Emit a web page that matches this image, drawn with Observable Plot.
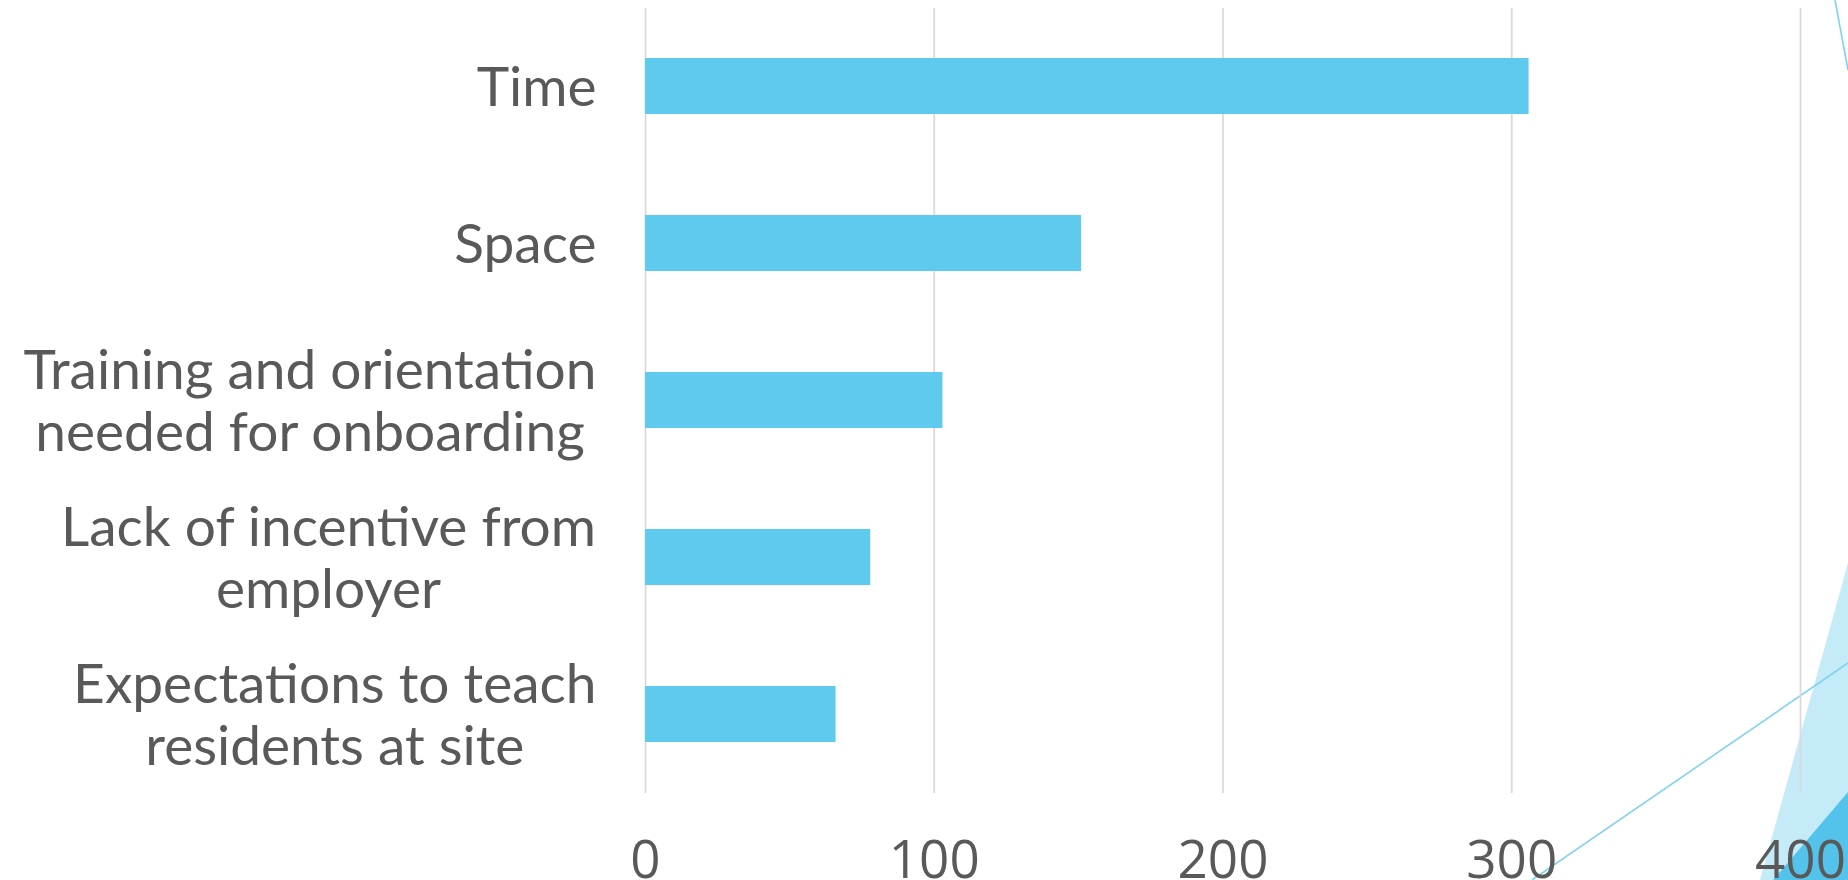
<!DOCTYPE html>
<html>
<head>
<meta charset="utf-8">
<script src="https://cdn.jsdelivr.net/npm/d3@7"></script>
<script src="https://cdn.jsdelivr.net/npm/@observablehq/plot@0.6"></script>
<style>
  html, body { margin: 0; padding: 0; background: #ffffff; overflow: hidden; }
  #wrap { position: relative; width: 1848px; height: 880px; }
  #deco { position: absolute; left: 0; top: 0; z-index: 0; }
  #chart { position: absolute; left: 0; top: 0; z-index: 1; }
  #chart svg { background: transparent; }
</style>
</head>
<body>
<div id="wrap">
  <svg id="deco" width="1848" height="880"></svg>
  <div id="chart"></div>
</div>
<script>
// ---- data ----
const categories = [
  "Time",
  "Space",
  "Training and orientation\nneeded for onboarding",
  "Lack of incentive from\nemployer",
  "Expectations to teach\nresidents at site"
];
const counts = [306, 151, 103, 78, 66];
const tickValues = [0, 100, 200, 300, 400];

const rows = categories.map((c, i) => ({category: c, count: counts[i]}));

// ---- decorative slide-theme shapes (background) ----
const deco = d3.select("#deco");
deco.append("polygon").attr("points", "1848,563 1848,880 1760,880").attr("fill", "#C5EBF8");
deco.append("polygon").attr("points", "1848,792 1848,880 1773,880").attr("fill", "#53C3EB");
deco.append("line").attr("x1", 1532).attr("y1", 880).attr("x2", 1848).attr("y2", 663)
  .attr("stroke", "#7FD3F0").attr("stroke-width", 1.6);
deco.append("line").attr("x1", 1835).attr("y1", 0).attr("x2", 1848).attr("y2", 70)
  .attr("stroke", "#7FD3F0").attr("stroke-width", 1.6);

// ---- label measurement (centre-aligned multi-line labels, right-aligned block) ----
const labelFont = "55px Lato";
const ctx = document.createElement("canvas").getContext("2d");
ctx.font = labelFont;
const blockWidth = c => d3.max(c.split("\n"), s => ctx.measureText(s).width);

// ---- chart ----
const textColor = "#595959";
const labelGap = 49;
const chart = Plot.plot({
  width: 1848,
  height: 880,
  marginLeft: 645,
  marginRight: 48,
  marginTop: 8,
  marginBottom: 87,
  style: {background: "transparent", overflow: "visible"},
  x: {domain: [0, 400], axis: null},
  y: {domain: categories, paddingInner: 0.643, paddingOuter: 0.3215, axis: null},
  marks: [
    Plot.ruleX(tickValues, {stroke: "#d9d9d9", strokeWidth: 1.75}),
    Plot.barX(rows, {x: "count", y: "category", fill: "#5ECBEE"}),
    ...categories.map(c => Plot.text([c], {
      y: d => d, text: d => d, frameAnchor: "left",
      dx: -labelGap - blockWidth(c) / 2,
      textAnchor: "middle", lineAnchor: "middle", lineHeight: 1.13,
      fontFamily: "Lato", fontSize: 55, fill: textColor
    })),
    Plot.text(tickValues, {
      x: d => d, text: d => String(d), frameAnchor: "bottom", dy: 84,
      lineAnchor: "bottom", textAnchor: "middle",
      fontFamily: "Open Sans", fontSize: 53, fill: textColor
    })
  ]
});
document.getElementById("chart").appendChild(chart);
</script>
</body>
</html>
